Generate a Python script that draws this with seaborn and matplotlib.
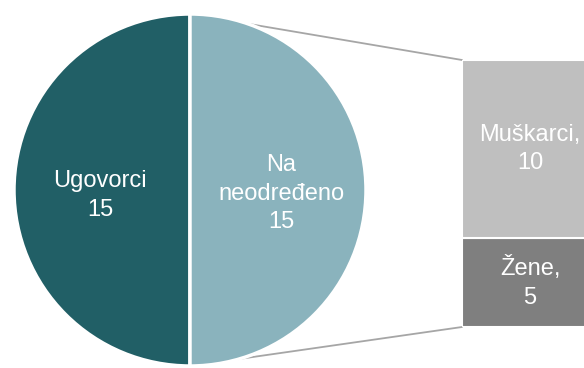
import matplotlib
matplotlib.use("Agg")
import matplotlib.pyplot as plt
import seaborn as sns
from matplotlib.patches import ConnectionPatch

# -------------------------
# Data
# -------------------------
pie_labels = ["Ugovorci", "Na\nneodređeno"]
pie_values = [15, 15]
pie_colors = ["#215F66", "#8AB3BD"]

bar_labels = ["Žene", "Muškarci"]
bar_values = [5, 10]
bar_colors = ["#7F7F7F", "#BFBFBF"]

sns.set_theme(style="white")
plt.rcParams["font.family"] = ["Liberation Sans", "DejaVu Sans"]

W, H = 584, 368
fig = plt.figure(figsize=(W / 100, H / 100), dpi=100)

# -------------------------
# Pie (left)
# -------------------------
cx, cy, r = 190, 190, 176
ax_pie = fig.add_axes([(cx - r) / W, (H - cy - r) / H, 2 * r / W, 2 * r / H])
wedges, _ = ax_pie.pie(
    pie_values,
    colors=pie_colors,
    startangle=90,
    counterclock=True,
    radius=1,
    wedgeprops=dict(edgecolor="white", linewidth=2.5),
)
ax_pie.set_xlim(-1, 1)
ax_pie.set_ylim(-1, 1)
ax_pie.axis("off")

ax_pie.text(-0.51, -0.03, f"{pie_labels[0]}\n{pie_values[0]}", color="white",
            ha="center", va="center", fontsize=17, linespacing=1.38)
ax_pie.text(0.52, -0.02, f"{pie_labels[1]}\n{pie_values[1]}", color="white",
            ha="center", va="center", fontsize=17, linespacing=1.38)

# -------------------------
# Bar of pie (right)
# -------------------------
bx0, bw, by_top, by_bot = 462, 136, 60, 327
ax_bar = fig.add_axes([bx0 / W, (H - by_bot) / H, bw / W, (by_bot - by_top) / H])
bottom = 0
for lab, val, col in zip(bar_labels, bar_values, bar_colors):
    ax_bar.bar(0, val, width=1.0, bottom=bottom, color=col,
               edgecolor="white", linewidth=1.5)
    ax_bar.text(0, bottom + val / 2, f"{lab},\n{val}", color="white",
                ha="center", va="center", fontsize=17, linespacing=1.38)
    bottom += val
ax_bar.set_xlim(-0.5, 0.5)
ax_bar.set_ylim(0, sum(bar_values))
ax_bar.axis("off")

# -------------------------
# Connector lines
# -------------------------
for py, by in [(1, sum(bar_values)), (-1, 0)]:
    con = ConnectionPatch(xyA=(0, py), coordsA=ax_pie.transData,
                          xyB=(-0.5, by), coordsB=ax_bar.transData,
                          color="#A6A6A6", linewidth=1.3, zorder=0)
    fig.add_artist(con)
ax_pie.set_zorder(2)

plt.savefig("out.png", dpi=100)
plt.close()
